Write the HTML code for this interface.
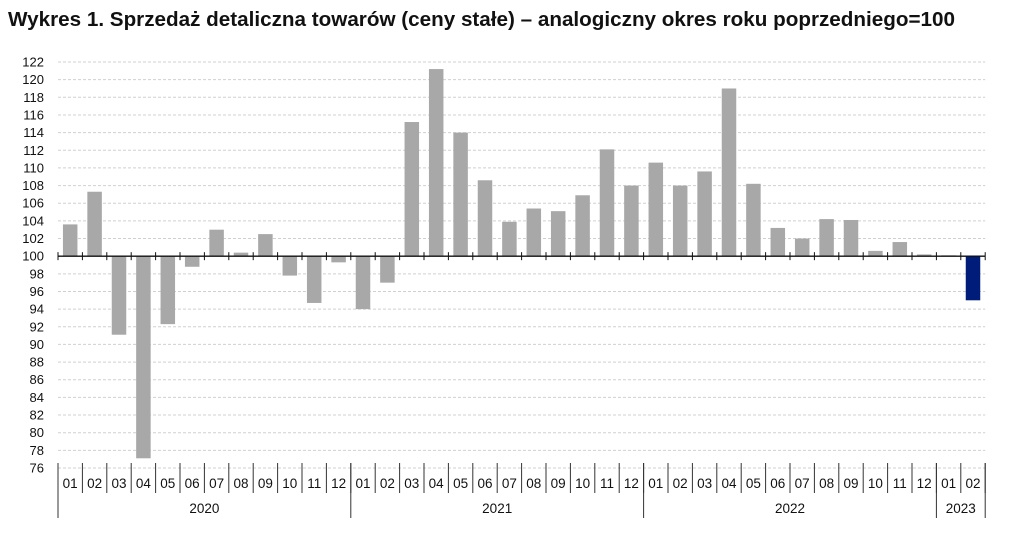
<!DOCTYPE html>
<html><head><meta charset="utf-8"><style>
body{margin:0;background:#fff;font-family:"Liberation Sans",sans-serif;}
</style></head><body>
<svg width="1018" height="532" xmlns="http://www.w3.org/2000/svg">
<text x="8" y="26" font-size="20" font-weight="bold" fill="#111" textLength="947" lengthAdjust="spacingAndGlyphs">Wykres 1. Sprzedaż detaliczna towarów (ceny stałe) – analogiczny okres roku poprzedniego=100</text>
<g id="grid"></g><g id="bars"></g><g id="axis"></g>
</svg>
<script>
const months=["01","02","03","04","05","06","07","08","09","10","11","12","01","02","03","04","05","06","07","08","09","10","11","12","01","02","03","04","05","06","07","08","09","10","11","12","01","02"];
const values=[103.6,107.3,91.1,77.1,92.3,98.8,103.0,100.4,102.5,97.8,94.7,99.3,94.0,97.0,115.2,121.2,114.0,108.6,103.9,105.4,105.1,106.9,112.1,108.0,110.6,108.0,109.6,119.0,108.2,103.2,102.0,104.2,104.1,100.6,101.6,100.2,100.1,95.0];
const years=["2020","2021","2022","2023"];
const yearCounts=[12,12,12,2];
const yTicks=[76,78,80,82,84,86,88,90,92,94,96,98,100,102,104,106,108,110,112,114,116,118,120,122];
const NS="http://www.w3.org/2000/svg";
const x0=58,step=24.4,yTop=62,yBot=468,vMin=76,vMax=122;
const y=v=>yBot-(v-vMin)/(vMax-vMin)*(yBot-yTop);
const xr=i=>x0+i*step;
const xEnd=xr(months.length);
function mk(t,a,p){const e=document.createElementNS(NS,t);for(const k in a)e.setAttribute(k,a[k]);p.appendChild(e);return e;}
const grid=document.getElementById('grid'),bars=document.getElementById('bars'),axis=document.getElementById('axis');
yTicks.forEach(v=>{
 const l=mk('line',{x1:x0,x2:xEnd,y1:y(v),y2:y(v),stroke:'#d0d0d0','stroke-dasharray':'3,2'},grid);
 
 
 const t=mk('text',{x:44,y:y(v)+4.5,'font-size':13,'text-anchor':'end',fill:'#111'},axis);
 t.textContent=v;
 
 
});
values.forEach((v,i)=>{
 const cx=xr(i)+step/2,w=14.5;
 const r=mk('rect',{x:cx-w/2,y:Math.min(y(v),y(100)),width:w,height:Math.abs(y(v)-y(100)),fill:i===values.length-1?'#001c7a':'#a8a8a8'},bars);
 
 
 const t=mk('text',{x:cx,y:488,'font-size':13.5,'text-anchor':'middle',fill:'#111'},axis);
 t.textContent=months[i];
 
 
});
const base=mk('line',{x1:x0,x2:xEnd,y1:y(100),y2:y(100),stroke:'#111','stroke-width':1.3},axis);


for(let i=0;i<=months.length;i++){
 const tk=mk('line',{x1:xr(i),x2:xr(i),y1:y(100)-4,y2:y(100)+4,stroke:'#111'},axis);
 
 
 const s=mk('line',{x1:xr(i),x2:xr(i),y1:463,y2:493,stroke:'#333'},axis);
 
 
}
let acc=0;
years.forEach((yr,j)=>{
 const s=mk('line',{x1:xr(acc),x2:xr(acc),y1:463,y2:518,stroke:'#333'},axis);
 
 
 const t=mk('text',{x:xr(acc+yearCounts[j]/2),y:513,'font-size':13.5,'text-anchor':'middle',fill:'#111'},axis);
 t.textContent=yr;
 
 
 acc+=yearCounts[j];
});
const s=mk('line',{x1:xr(acc),x2:xr(acc),y1:463,y2:518,stroke:'#333'},axis);


</script>
</body></html>
